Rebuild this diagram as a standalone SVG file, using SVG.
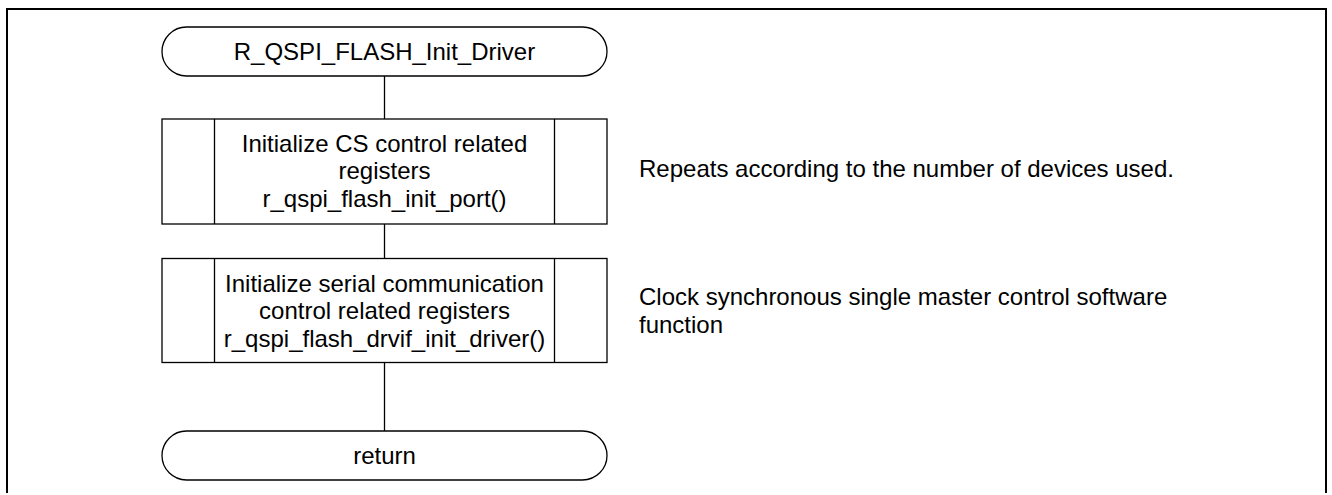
<svg xmlns="http://www.w3.org/2000/svg" width="1332" height="495" viewBox="0 0 1332 495">
<style>
.s{fill:#fff;stroke:#000;stroke-width:1.3}
.l{fill:none;stroke:#000;stroke-width:1.3}
.t{font-family:"Liberation Sans",Arial,sans-serif;font-size:24px;fill:#000}
.c{text-anchor:middle}
</style>
<rect width="1332" height="495" fill="#fff"/>
<path d="M7,493 V9 H1326 V493" fill="none" stroke="#000" stroke-width="2"/>
<g id="connectors">
<line class="l" x1="384.5" y1="76" x2="384.5" y2="119"/>
<line class="l" x1="384.5" y1="224" x2="384.5" y2="258.5"/>
<line class="l" x1="384.5" y1="362.5" x2="384.5" y2="431"/>
</g>
<g id="start">
<rect class="s" x="162" y="27" width="445" height="49" rx="24.5" ry="24.5"/>
<text class="t c" x="384.5" y="60">R_QSPI_FLASH_Init_Driver</text>
</g>
<g id="init_port">
<rect class="s" x="162" y="119" width="445" height="105"/>
<line class="l" x1="214.5" y1="119" x2="214.5" y2="224"/>
<line class="l" x1="554.5" y1="119" x2="554.5" y2="224"/>
<text class="t c" x="384.5" y="151.5">Initialize CS control related</text>
<text class="t c" x="384.5" y="179">registers</text>
<text class="t c" x="384.5" y="206.5">r_qspi_flash_init_port()</text>
</g>
<g id="init_driver">
<rect class="s" x="162" y="258.5" width="445" height="104"/>
<line class="l" x1="214.5" y1="258.5" x2="214.5" y2="362.5"/>
<line class="l" x1="554.5" y1="258.5" x2="554.5" y2="362.5"/>
<text class="t c" x="384.5" y="291.5">Initialize serial communication</text>
<text class="t c" x="384.5" y="319">control related registers</text>
<text class="t c" x="384.5" y="346.5">r_qspi_flash_drvif_init_driver()</text>
</g>
<g id="end">
<rect class="s" x="162" y="431" width="445" height="49" rx="24.5" ry="24.5"/>
<text class="t c" x="384.5" y="464">return</text>
</g>
<g id="notes">
<text class="t" x="639" y="177">Repeats according to the number of devices used.</text>
<text class="t" x="639" y="305">Clock synchronous single master control software</text>
<text class="t" x="639" y="332.5">function</text>
</g>
</svg>
